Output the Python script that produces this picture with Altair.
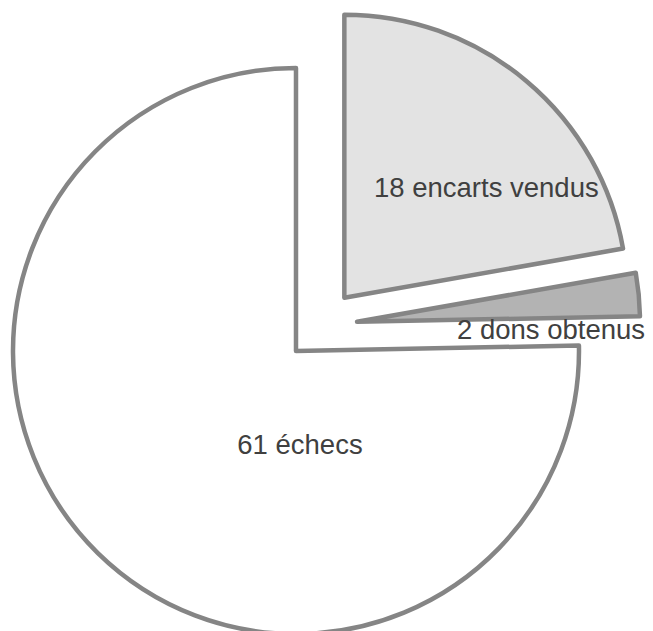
import altair as alt
import pandas as pd
import numpy as np

# ---- data ----
categories = ["18 encarts vendus", "2 dons obtenus", "61 échecs"]
values = [18, 2, 61]
fills = ["#e3e3e3", "#b3b3b3", "#ffffff"]

# ---- layout (pixels, chart coordinates) ----
CX, CY = 313.2, 317.3      # pie centre
R = 283                     # pie radius
EXPLODE = 36                # explosion distance of each slice
label_dx = [142, 194, 4]    # label offset from each slice's apex
label_dy = [-101, 17, 103]

total = sum(values)
cum = np.cumsum([0] + values)
t0 = cum[:-1] / total * 2 * np.pi
t1 = cum[1:] / total * 2 * np.pi
mid = (t0 + t1) / 2
vx = CX + EXPLODE * np.sin(mid)
vy = CY - EXPLODE * np.cos(mid)

df = pd.DataFrame({
    "cat": categories,
    "value": values,
    "t0": t0,
    "t1": t1,
    "vx": vx,
    "vy": vy,
    "lx": vx + np.array(label_dx),
    "ly": vy + np.array(label_dy),
})

color = alt.Color("cat:N", scale=alt.Scale(domain=categories, range=fills), legend=None)

arcs = alt.Chart(df).mark_arc(
    radius=R, stroke="#858585", strokeWidth=4.5, strokeJoin="round"
).encode(
    x=alt.X("vx:Q", scale=None, axis=None),
    y=alt.Y("vy:Q", scale=None, axis=None),
    theta=alt.Theta("t0:Q", scale=None),
    theta2="t1:Q",
    color=color,
)

labels = alt.Chart(df).mark_text(
    font="Liberation Sans", fontSize=27.5, color="#404040",
    align="center", baseline="alphabetic"
).encode(
    x=alt.X("lx:Q", scale=None, axis=None),
    y=alt.Y("ly:Q", scale=None, axis=None),
    text="cat:N",
)

chart = alt.layer(arcs, labels).properties(
    width=637, height=623, padding=0, autosize="none"
).configure_view(stroke=None)

chart.save("out.html", embed_options={"renderer": "svg", "actions": False})
